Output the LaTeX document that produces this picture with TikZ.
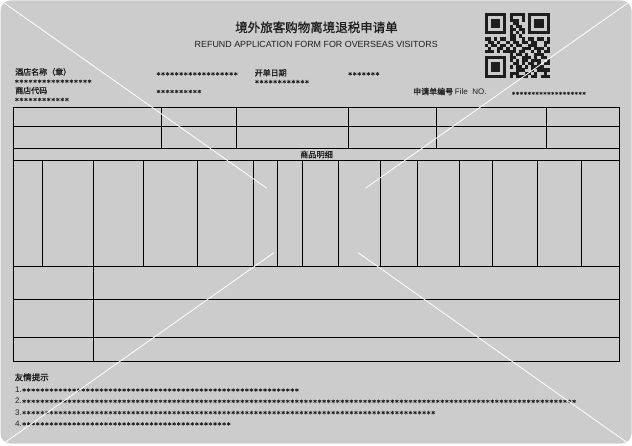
\documentclass[tikz,border=0pt]{standalone}
\usepackage{fontspec}
\setmainfont{Liberation Sans}
\newfontfamily\cjk{Noto Sans CJK SC}
\newfontfamily\cjkb[FakeBold=1.2]{Noto Sans CJK SC}
\newfontfamily\starfont[FakeBold=0.5]{DejaVu Sans Mono}
\definecolor{formgray}{RGB}{204,204,204}
\definecolor{ink}{RGB}{30,30,30}
\newcommand\starrun[1]{\foreach\i in {1,...,#1}{*}}
\newcommand\tipstars[1]{{\starfont\fontsize{7.55}{9}\selectfont\raisebox{-1.5pt}{\starrun{#1}}}}
\tikzset{
  cjklabel/.style={anchor=base west, inner sep=0pt, text height=6pt, text depth=0.8pt, text=ink, font=\cjkb\fontsize{8}{9}\selectfont},
  starrow/.style={anchor=base west, inner sep=0pt, text height=5.5pt, text depth=0pt, text=ink, font=\starfont\fontsize{7.55}{9}\selectfont},
  tipline/.style={anchor=base west, inner sep=0pt, text=ink, font=\fontsize{8}{9}\selectfont},
  gridline/.style={line width=1pt, black},
  crossline/.style={white, line width=0.8pt},
  qrcell/.style={fill=ink}
}
\begin{document}
\begin{tikzpicture}[x=1pt,y=-1pt]
      \useasboundingbox (0,0) rectangle (632,446);
      \fill[formgray, rounded corners=10pt] (0.5,0.5) rectangle (631.5,443.5);
      \draw
        (316.5,27.3) node[inner sep=0pt, text=ink, font=\cjkb\fontsize{12.5}{14}\selectfont] (title){境外旅客购物离境退税申请单}
        (316.2,44) node[inner sep=0pt, text=ink, font=\fontsize{8.9}{10}\selectfont] (subtitle){REFUND APPLICATION FORM FOR OVERSEAS VISITORS}
        (15,75) node[cjklabel] (hotel){酒店名称（章）}
        (14.4,85.2) node[starrow] (hotelstars){\starrun{17}}
        (15,93.6) node[cjklabel] (shop){商店代码}
        (14.4,103.4) node[starrow] (shopstars){\starrun{12}}
        (156,77.7) node[starrow] (hotelval){\starrun{18}}
        (156,95.4) node[starrow] (shopval){\starrun{10}}
        (254.5,75.8) node[cjklabel] (date){开单日期}
        (254.5,85.6) node[starrow] (datestars){\starrun{12}}
        (347.7,77.7) node[starrow] (dateval){\starrun{7}}
        (413,94.5) node[cjklabel] (fileno){申请单编号 {\fontspec{Liberation Sans}File\ \ NO.}}
        (511.5,96.7) node[starrow, font=\starfont\fontsize{6.5}{8}\selectfont] (filestars){\starrun{19}}
        (316.5,154.5) node[inner sep=0pt, text=ink, font=\cjkb\fontsize{8.2}{9}\selectfont] (goods){商品明细}
        (14.5,380.5) node[cjklabel, font=\cjkb\fontsize{8.5}{9}\selectfont] (tips){友情提示}
        (15,392.4) node[tipline] (tip1){1.\tipstars{61}}
        (15,403.7) node[tipline] (tip2){2.\tipstars{122}}
        (15,415) node[tipline] (tip3){3.\tipstars{91}}
        (15,426.3) node[tipline] (tip4){4.\tipstars{46}};
      \begin{scope}[gridline]
        \draw (13.3,107.3) rectangle (619.5,362);
        \draw (13.3,126.5) -- (619.5,126.5);
        \draw (13.3,148.5) -- (619.5,148.5);
        \draw (13.3,160.3) -- (619.5,160.3);
        \draw (13.3,266.5) -- (619.5,266.5);
        \draw (13.3,299.3) -- (619.5,299.3);
        \draw (13.3,337.3) -- (619.5,337.3);
        \draw (161.2,107.3) -- (161.2,148.5);
        \draw (236.6,107.3) -- (236.6,148.5);
        \draw (348.2,107.3) -- (348.2,148.5);
        \draw (436.5,107.3) -- (436.5,148.5);
        \draw (546.5,107.3) -- (546.5,148.5);
        \draw (42.3,160.3) -- (42.3,266.5);
        \draw (93.5,160.3) -- (93.5,362);
        \draw (143.5,160.3) -- (143.5,266.5);
        \draw (197.5,160.3) -- (197.5,266.5);
        \draw (253.5,160.3) -- (253.5,266.5);
        \draw (277.3,160.3) -- (277.3,266.5);
        \draw (302.3,160.3) -- (302.3,266.5);
        \draw (338.5,160.3) -- (338.5,266.5);
        \draw (380.5,160.3) -- (380.5,266.5);
        \draw (417.6,160.3) -- (417.6,266.5);
        \draw (459.5,160.3) -- (459.5,266.5);
        \draw (492.5,160.3) -- (492.5,266.5);
        \draw (537.7,160.3) -- (537.7,266.5);
        \draw (581.6,160.3) -- (581.6,266.5);
      \end{scope}
      \begin{scope}[shift={(484.7,12.7)}, x=3.1pt, y=-3.1pt]
        \foreach \fx/\fy in {0/0, 14/0, 0/14} {
          \fill[ink] (\fx,\fy) rectangle +(7,7);
          \fill[formgray] (\fx+1,\fy+1) rectangle +(5,5);
          \fill[ink] (\fx+2,\fy+2) rectangle +(3,3);
        }
        \foreach \r/\cs in {0/{8,9,10,11,12}, 1/{8,12}, 2/{8,9,10,12}, 3/{9,10},
            4/{8,10,11}, 5/{8,9,11,12}, 6/{8,10,12}, 7/{8,9,11},
            8/{0,1,3,5,6,8,9,12,14,15,17,18,20}, 9/{1,2,4,7,9,10,12,13,15,16,19,20},
            10/{0,2,3,5,6,8,10,11,14,15,16,19}, 11/{1,4,5,7,9,12,13,14,16,17,18,20},
            12/{0,1,2,4,6,7,8,9,11,12,15,17,19,20}, 13/{8,10,11,13,16,17,18},
            14/{8,9,12,13,14,16,18,19}, 15/{8,10,12,13,15,16,17,20},
            16/{9,10,12,14,15,17,19,20}, 17/{8,10,11,13,15,16,17,18},
            18/{10,11,12,15,17,18,19,20}, 19/{8,9,10,13,14,16,19},
            20/{8,10,11,12,13,15,16,18,19,20}}
          \foreach \c in \cs
            \fill[qrcell] (\c,\r) rectangle +(1.03,1.03);
      \end{scope}
      \coordinate (tl) at (0,0);
      \coordinate (tr) at (632,0);
      \coordinate (bl) at (0,446);
      \coordinate (br) at (632,446);
      \coordinate (tlend) at (266.7,188.2);
      \coordinate (trend) at (365.5,188.2);
      \coordinate (blend) at (274,252.6);
      \coordinate (brend) at (358,252.6);
      \begin{scope}[crossline]
        \draw (tl) -- (tlend);
        \draw (tr) -- (trend);
        \draw (bl) -- (blend);
        \draw (br) -- (brend);
      \end{scope}
    \end{tikzpicture}
\end{document}
